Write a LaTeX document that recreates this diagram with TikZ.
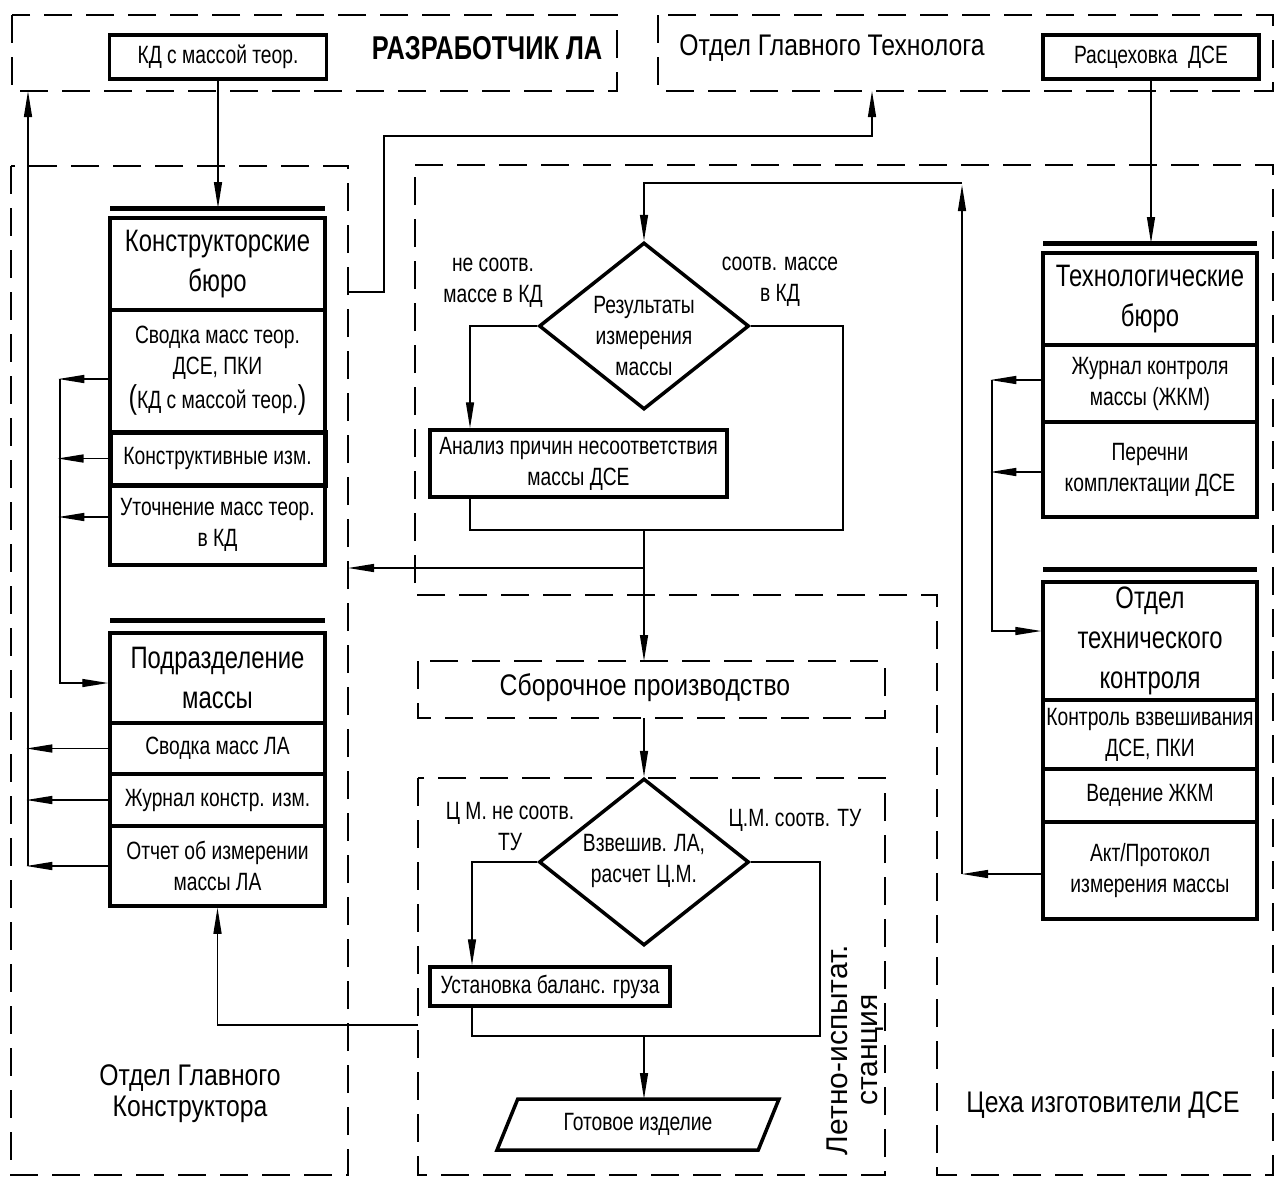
\documentclass[tikz,border=0pt]{standalone}
\usepackage{fontspec}
\setmainfont{Liberation Sans}[FakeStretch=0.77]
\newfontfamily\regfam{Liberation Sans}[FakeStretch=0.83]
\newfontfamily\plainfam{Liberation Sans}
\usetikzlibrary{arrows.meta,shapes.geometric}
\newcommand\itemfont{\fontsize{25}{31}\selectfont}
\newcommand\ttlfont{\fontsize{31}{40}\selectfont}
\newcommand\bigfont{\regfam\fontsize{29.8}{31}\selectfont}
\newcommand\razfont{\fontsize{33}{33}\selectfont\bfseries}
\newcommand\rotfont{\plainfam\fontsize{30}{30}\selectfont}
\newcommand\bigpar[1]{{\fontsize{33}{33}\selectfont #1}}
\tikzset{
  region/.style={line width=1.6pt, dash pattern=on 28pt off 14pt},
  box/.style={draw, line width=3.5pt, minimum width=215pt, inner sep=0pt, align=center, font=\itemfont},
  ttl/.style={box, font=\ttlfont},
  conn/.style={line width=1.4pt},
  arr/.style={conn, -{Triangle[length=26pt,width=8pt]}},
  bar/.style={line width=5pt},
  dia/.style={draw, diamond, line width=3.5pt, minimum width=210pt, minimum height=167pt, inner sep=0pt},
  lbl/.style={align=center, font=\itemfont, inner sep=0pt},
  big/.style={align=center, font=\bigfont, inner sep=0pt},
}
\begin{document}
\begin{tikzpicture}[x=1pt,y=-1pt]
\fill[white] (0,0) rectangle (1276,1178);
\useasboundingbox (0,0) rectangle (1276,1178);
% regions
\draw[region] (12,15) rectangle (617,91);
\draw[region] (658,15) rectangle (1273,91);
\draw[region] (11,166) rectangle (348,1175);
\draw[region] (415,165) -- (1273,165) -- (1273,1175) -- (937,1175) -- (937,595) -- (415,595) -- cycle;
\draw[region] (418,661) rectangle (885,718);
\draw[region] (418,778) rectangle (885,1175);
% top
\node[box, minimum width=217pt, minimum height=44pt] (kd) at (218,57) {КД с массой теор.};
\node[font=\razfont, inner sep=0pt] (razr) at (487,48) {РАЗРАБОТЧИК ЛА};
\node[big] (ogt) at (832,48) {Отдел Главного Технолога};
\node[box, minimum width=216pt, minimum height=44pt] (rasc) at (1151,57) {Расцеховка\ \ ДСЕ};
% KB stack
\coordinate (kbbar) at (217.5,208);
\draw[bar] (110,208) -- (325,208);
\node[ttl, minimum height=92pt] (kb1) at (217.5,264) {Конструкторские\\бюро};
\node[box, minimum height=122pt] (kb2) at (217.5,371) {Сводка масс теор.\\ДСЕ, ПКИ\\[3pt]\bigpar{(}КД с массой теор.\bigpar{)}};
\node[box, minimum height=53pt, line width=5pt] (kb3) at (217.5,458.5) {Конструктивные изм.};
\node[box, minimum height=80pt] (kb4) at (217.5,525) {Уточнение масс теор.\\в КД};
% PM stack
\draw[bar] (110,620) -- (325,620);
\node[ttl, minimum height=90pt] (pm1) at (217.5,678) {Подразделение\\массы};
\node[box, minimum height=51pt] (pm2) at (217.5,748.5) {Сводка масс ЛА};
\node[box, minimum height=52pt] (pm3) at (217.5,800) {Журнал констр. изм.};
\node[box, minimum height=80pt] (pm4) at (217.5,866) {Отчет об измерении\\массы ЛА};
% Tech stack
\coordinate (tbbar) at (1150,243);
\draw[bar] (1043,243) -- (1257,243);
\node[ttl, minimum width=214pt, minimum height=92pt] (tb1) at (1150,299) {Технологические\\бюро};
\node[box, minimum width=214pt, minimum height=77pt] (tb2) at (1150,383.5) {Журнал контроля\\массы (ЖКМ)};
\node[box, minimum width=214pt, minimum height=95pt] (tb3) at (1150,469.5) {Перечни\\комплектации ДСЕ};
% OTK stack
\draw[bar] (1043,569) -- (1257,569);
\node[ttl, minimum width=214pt, minimum height=118pt] (ot1) at (1150,641) {Отдел\\технического\\контроля};
\node[box, minimum width=214pt, minimum height=69pt] (ot2) at (1150,734.5) {Контроль взвешивания\\ДСЕ, ПКИ};
\node[box, minimum width=214pt, minimum height=53pt] (ot3) at (1150,795.5) {Ведение ЖКМ};
\node[box, minimum width=214pt, minimum height=97pt] (ot4) at (1150,870.5) {Акт/Протокол\\измерения массы};
% middle
\node[dia] (d1) at (644,326) {};
\node[lbl] (d1t) at (644,336) {Результаты\\измерения\\массы};
\node[lbl] (l1) at (493,283) {не соотв.\\массе в КД};
\node[lbl] (l2) at (780,282) {соотв. массе\\в КД};
\node[box, minimum width=297pt, minimum height=67pt] (an) at (578.5,463.5) {Анализ причин несоответствия\\массы ДСЕ};
\node[big] (sb) at (645,688) {Сборочное производство};
\node[dia] (d2) at (644,862) {};
\node[lbl] (d2t) at (644,861) {Взвешив. ЛА,\\расчет Ц.М.};
\node[lbl] (l3) at (510,827) {Ц М. не соотв.\\ТУ};
\node[lbl] (l4) at (795,820) {Ц.М. соотв. ТУ};
\node[box, minimum width=240pt, minimum height=39pt] (us) at (550,986.5) {Установка баланс. груза};
\node[draw, trapezium, trapezium left angle=60, trapezium right angle=120, trapezium stretches=true, minimum width=282pt, minimum height=51pt, line width=3.5pt, inner sep=0pt, font=\itemfont] (gi) at (638,1124.5) {Готовое изделие};
\node[align=center, font=\rotfont, inner sep=0pt, rotate=90] (lis) at (855,1050) {Летно-испытат.\\станция};
\node[big] (ogk) at (190,1094) {Отдел Главного\\Конструктора};
\node[big] (cex) at (1103,1105) {Цеха изготовители ДСЕ};
% connectors: top
\draw[arr] (kd.south) -- (kd.south |- kbbar);
\draw[arr] (rasc.south) -- (rasc.south |- tbbar);
% left column
\draw[arr] ([yshift=-8pt]kb2.west) -- ++(-50,0);
\draw[arr] (kb3.west) -- ++(-50,0);
\draw[arr] ([yshift=8pt]kb4.west) -- ++(-50,0);
\draw[arr] (60,379) -- (60,683) -- ([yshift=-5pt]pm1.west);
\draw[arr] (pm2.west) -- ++(-82,0);
\draw[arr] (pm3.west) -- ++(-82,0);
\draw[arr] (pm4.west) -- ++(-82,0);
\draw[arr] (28,866) -- (28,91);
\draw[arr] (418,1025) -- (pm4.south |- 0,1025) -- (pm4.south);
\draw[arr] (348,292) -- (384,292) -- (384,136) -- (872,136) -- (872,91);
% right column
\draw[arr] ([yshift=3.5pt]tb2.west) -- ++(-51,0);
\draw[arr] ([yshift=-2.5pt]tb3.west) -- ++(-51,0);
\draw[arr] (992,380) -- (992,631) -- ([yshift=10pt]ot1.west);
\draw[arr] ([yshift=-3.5pt]ot4.west) -- (962,874);
\draw[arr] (962,874) -- (962,185);
\draw[arr] (962,183) -- (644,183) -- (d1.north);
% middle flow
\coordinate (jl) at (470,326);
\draw[arr] (d1.west) -- (jl) -- (jl |- an.north);
\draw[conn] (jl |- an.south) -- (470,530) -- (843,530) -- (843,326) -- (d1.east);
\draw[arr] (644,530) -- (644,661);
\draw[arr] (644,568) -- (348,568);
\draw[arr] (644,718) -- (d2.north);
\coordinate (jl2) at (472,862);
\draw[arr] (d2.west) -- (jl2) -- (jl2 |- us.north);
\draw[conn] (jl2 |- us.south) -- (472,1036) -- (820,1036) -- (820,862) -- (d2.east);
\draw[arr] (644,1036) -- (644,1099);
\end{tikzpicture}
\end{document}
